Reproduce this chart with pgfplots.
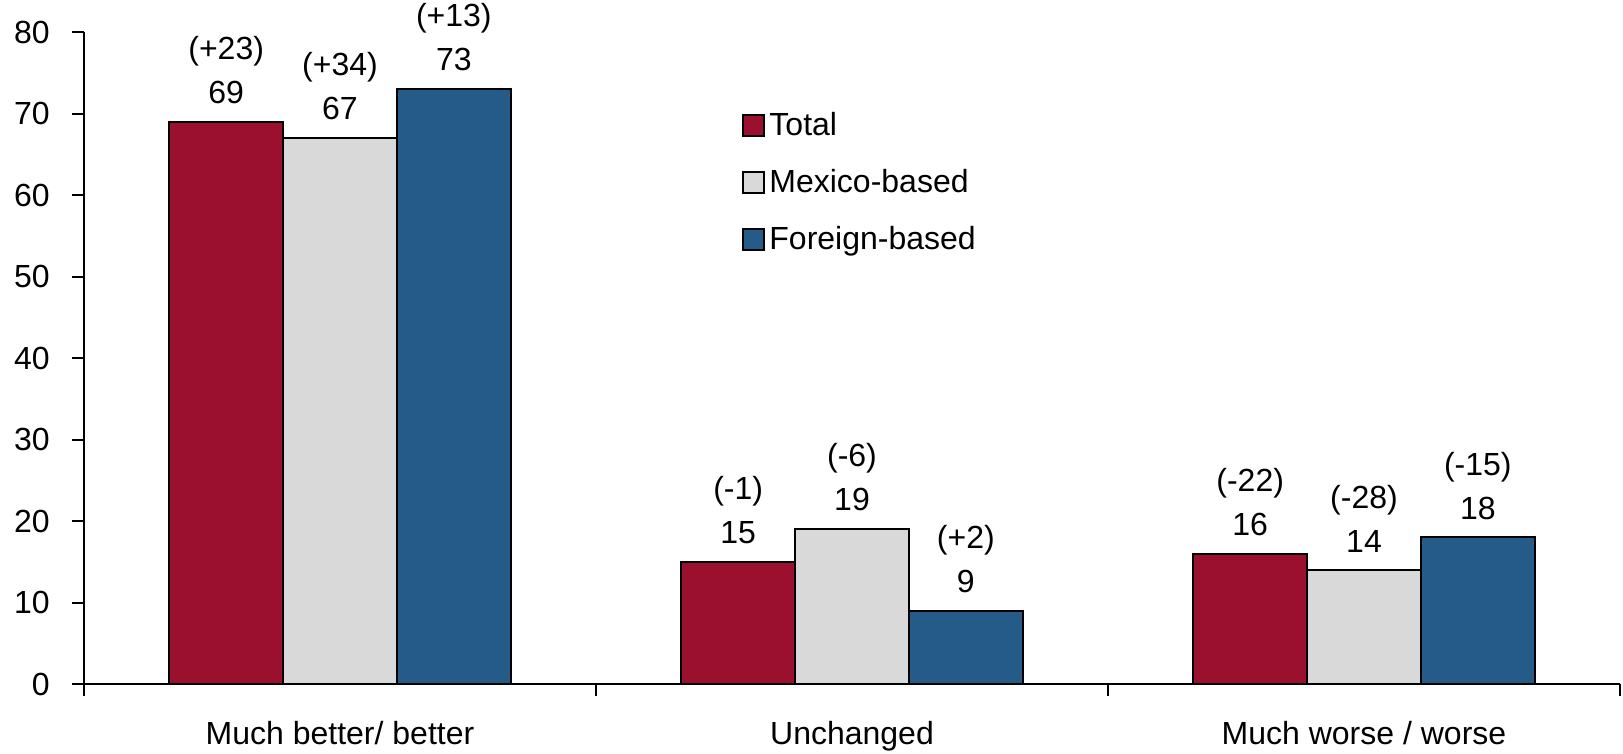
\documentclass[border=0pt]{standalone}
\usepackage{pgfplots}
\pgfplotsset{compat=1.18}
\usepackage{pgfplotstable}
\usepackage{fontspec}
\setmainfont{Liberation Sans}

\definecolor{cTotal}{RGB}{155,16,46}
\definecolor{cMex}{RGB}{217,217,217}
\definecolor{cFor}{RGB}{37,91,137}

% x: category, y: share, chg: change in parentheses
\pgfplotstableread{
x y chg
0 69 (+23)
1 15 (-1)
2 16 (-22)
}\total
\pgfplotstableread{
x y chg
0 67 (+34)
1 19 (-6)
2 14 (-28)
}\mexico
\pgfplotstableread{
x y chg
0 73 (+13)
1 9 (+2)
2 18 (-15)
}\foreign

\begin{document}
\begin{tikzpicture}
\path[use as bounding box] (-42pt,-34.85pt) rectangle (769.5pt,342.1pt);
\begin{axis}[
    at={(0,0)}, anchor=south west,
    scale only axis,
    width=768pt, height=326.1pt,
    ybar=0pt, bar width=56.9pt,
    xmin=-0.5, xmax=2.5,
    ymin=0, ymax=80,
    ytick={0,10,...,80},
    xtick={-0.5,0.5,1.5,2.5},
    xticklabels={},
    extra x ticks={0,1,2},
    extra x tick labels={Much better/ better,Unchanged,Much worse / worse},
    extra x tick style={major tick length=0pt,
        xticklabel style={anchor=base, inner sep=0pt, yshift=-30.4pt}},
    axis x line=bottom, axis y line=left,
    axis line style={-, line width=1pt},
    tick style={line width=1pt, black},
    tick align=outside,
    major tick length=6pt,
    clip=false,
    /pgf/number format/assume math mode=true,
    tick label style={font=\fontsize{16}{19}\selectfont},
    yticklabel style={inner sep=0pt, xshift=-11pt},
    point meta=explicit symbolic,
    visualization depends on={y\as\rawy},
    nodes near coords={\pgfplotspointmeta\\\pgfmathprintnumber[fixed,precision=0]{\rawy}},
    every node near coord/.append style={align=center, anchor=south,
        inner sep=0pt, yshift=8.5pt, font=\fontsize{16}{22}\selectfont},
    legend style={at={(0.4284,0.884)}, anchor=north west, draw=none,
        fill=none, inner sep=0pt, row sep=11.5pt,
        font=\fontsize{16}{19}\selectfont},
    legend cell align=left,
    legend image code/.code={\draw[#1,draw=black,line width=1pt]
        (0pt,-5.25pt) rectangle (10.5pt,5.25pt);},
]
\addplot[fill=cTotal, draw=black, line width=1pt] table[x=x,y=y,meta=chg] {\total};
\addplot[fill=cMex, draw=black, line width=1pt] table[x=x,y=y,meta=chg] {\mexico};
\addplot[fill=cFor, draw=black, line width=1pt] table[x=x,y=y,meta=chg] {\foreign};
\legend{Total,Mexico-based,Foreign-based}
\end{axis}
\end{tikzpicture}
\end{document}
